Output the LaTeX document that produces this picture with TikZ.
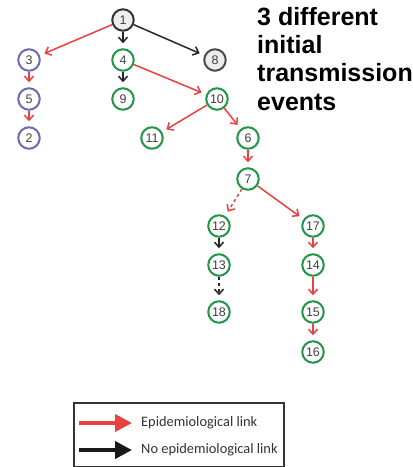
\documentclass[tikz,border=0pt]{standalone}
\usepackage{fontspec}
\setmainfont{Liberation Sans}
\newfontfamily\legfont{Carlito}
\usetikzlibrary{arrows.meta}
\definecolor{epired}{RGB}{234,64,64}
\definecolor{nodeblue}{RGB}{108,108,176}
\definecolor{nodegreen}{RGB}{32,150,72}
\begin{document}
\begin{tikzpicture}[x=1pt,y=-1pt,
  nd/.style={circle,minimum size=21.5pt,inner sep=0pt,line width=2pt,fill=white,
    font=\fontsize{12.5}{13}\selectfont,text=black!75},
  bl/.style={nd,draw=nodeblue},
  gr/.style={nd,draw=nodegreen},
  gy/.style={nd,draw=black!80,fill=black!7},
  lk/.style={line width=1.5pt,-{Straight Barb[length=5pt,width=9pt]},shorten >=5pt},
  epi/.style={lk,draw=epired},
  noepi/.style={lk,draw=black!85},
  title/.style={anchor=base west,inner sep=0pt,font=\fontsize{25}{28}\bfseries\selectfont},
  legtxt/.style={anchor=west,inner sep=0pt,font=\legfont\fontsize{14.4}{16}\selectfont,text=black!80},
]
\useasboundingbox (0,0) rectangle (413,467);
\fill[white] (0,0) rectangle (413,467);

% nodes
\node[gy] (n1) at (123,20) {1};
\node[bl] (n3) at (29,60) {3};
\node[gr] (n4) at (123,60) {4};
\node[gy,draw=black!70] (n8) at (215,60) {8};
\node[bl] (n5) at (29,99) {5};
\node[gr] (n9) at (123,99) {9};
\node[gr] (n10) at (217,99) {10};
\node[bl] (n2) at (29,138) {2};
\node[gr] (n11) at (152,138) {11};
\node[gr] (n6) at (248,138) {6};
\node[gr] (n7) at (248,179) {7};
\node[gr] (n12) at (219,226) {12};
\node[gr] (n17) at (313,226) {17};
\node[gr] (n13) at (219,265) {13};
\node[gr] (n14) at (313,265) {14};
\node[gr] (n18) at (219,312) {18};
\node[gr] (n15) at (313,312) {15};
\node[gr] (n16) at (313,352) {16};

% edges
\draw[epi] (n1) -- (n3);
\draw[noepi] (n1) -- (n4);
\draw[noepi] (n1) -- (n8);
\draw[epi] (n3) -- (n5);
\draw[epi] (n5) -- (n2);
\draw[noepi] (n4) -- (n9);
\draw[epi] (n4) -- (n10);
\draw[epi] (n10) -- (n11);
\draw[epi] (n10) -- (n6);
\draw[epi] (n6) -- (n7);
\draw[epi,dashed] (n7) -- (n12);
\draw[epi] (n7) -- (n17);
\draw[noepi] (n12) -- (n13);
\draw[noepi,dashed] (n13) -- (n18);
\draw[epi] (n17) -- (n14);
\draw[epi] (n14) -- (n15);
\draw[epi] (n15) -- (n16);

% title
\node[title] (t1) at (257,25) {3 different};
\node[title] (t2) at (257,53) {initial};
\node[title] (t3) at (257,81) {transmission};
\node[title] (t4) at (257,110) {events};

% legend
\draw[line width=1.2pt,black!80] (74,403) rectangle (284,467);
\coordinate (ra) at (79,423);
\coordinate (rb) at (132,423);
\coordinate (ka) at (79,450);
\coordinate (kb) at (132,450);
\draw[line width=4pt,epired,-{Triangle[length=17pt,width=17pt]}] (ra) -- (rb);
\draw[line width=4pt,black!90,-{Triangle[length=17pt,width=17pt]}] (ka) -- (kb);
\node[legtxt] (l1) at (141,423) {Epidemiological link};
\node[legtxt] (l2) at (141,450) {No epidemiological link};
\end{tikzpicture}
\end{document}
